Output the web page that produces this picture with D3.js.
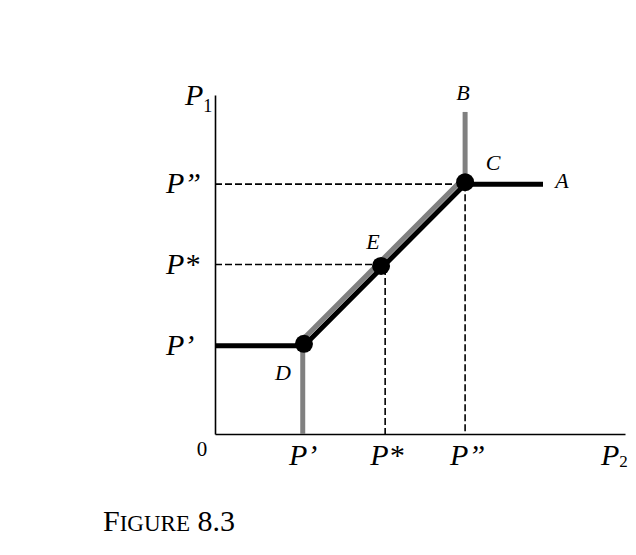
<!DOCTYPE html>
<html>
<head>
<meta charset="utf-8">
<title>Figure 8.3</title>
<script src="https://cdn.jsdelivr.net/npm/d3@7"></script>
<style>
  body { margin: 0; background: #fff; }
  svg text { font-family: "Liberation Serif", "Times New Roman", serif; fill: #000; }
</style>
</head>
<body>
<div id="chart"></div>
<script>
// price levels (axis units 0..100)
var priceLabels = ["P\u2019", "P*", "P\u201D"];
var p2Values = [21.7, 41.5, 61];      // P', P*, P'' on the P2 axis
var p1Values = [26, 50, 73.7];        // P', P*, P'' on the P1 axis

// reaction curves
var blackCurve = [[0, 26], [21.7, 26], [61, 73.7], [80, 73.7]];
var grayLow  = [[21.4, 0], [21.4, 27]];
var grayDiag = [[21.7, 26], [61, 73.7]];
var grayHigh = [[61, 73.7], [61, 95]];

// labelled points
var pointNames = ["D", "E", "C"];
var pointX = [21.7, 40.5, 61];
var pointY = [26, 49, 73.7];

// curve end labels
var endNames = ["A", "B"];
var endX = [80, 61];
var endY = [73.7, 95];

var width = 636, height = 555;

var svg = d3.select("#chart").append("svg")
    .attr("width", width)
    .attr("height", height);

var x = d3.scaleLinear().domain([0, 100]).range([215, 625]);
var y = d3.scaleLinear().domain([0, 100]).range([434, 95]);

var line = d3.line()
    .x(function(d) { return x(d[0]); })
    .y(function(d) { return y(d[1]); });

// dashed guides for P* and P''
var guides = svg.append("g")
    .attr("stroke", "#000")
    .attr("stroke-width", 1.6)
    .attr("stroke-dasharray", "7,3")
    .attr("fill", "none");

[1, 2].forEach(function(i) {
  guides.append("path")
    .attr("d", line([[0, p1Values[i]], [p2Values[i], p1Values[i]]]));
  guides.append("path")
    .attr("d", line([[p2Values[i], i == 1 ? pointY[1] : p1Values[i]], [p2Values[i], 0]]));
});

// axes
var xAxis = d3.axisBottom(x).tickSize(0).tickSizeOuter(0).tickValues([]);
var yAxis = d3.axisLeft(y).tickSize(0).tickSizeOuter(0).tickValues([]);

svg.append("g").attr("transform", "translate(0," + y(0) + ")").call(xAxis)
  .select(".domain").attr("stroke", "#000").attr("stroke-width", 1.6);
svg.append("g").attr("transform", "translate(" + x(0) + ",0)").call(yAxis)
  .select(".domain").attr("stroke", "#000").attr("stroke-width", 1.6);

// curves: gray one sits just above/left of the black one
var gray = svg.append("g")
    .attr("fill", "none")
    .attr("stroke", "#808080")
    .attr("stroke-width", 5);
gray.append("path").attr("d", line(grayLow));
gray.append("path").attr("d", line(grayHigh));
gray.append("path").attr("d", line(grayDiag)).attr("transform", "translate(-3.5,-4)");

svg.append("path")
    .attr("d", line(blackCurve))
    .attr("fill", "none")
    .attr("stroke", "#000")
    .attr("stroke-width", 5);

svg.selectAll(".pt")
  .data(pointNames)
  .enter().append("circle")
    .attr("class", "pt")
    .attr("cx", function(d, i) { return x(pointX[i]); })
    .attr("cy", function(d, i) { return y(pointY[i]) - 2; })
    .attr("r", 9)
    .attr("fill", "#000");

// point labels
var ptOffset = { D: [-21, 34], E: [-8, -19], C: [28, -14], A: [19, 4], B: [-2, -12] };

svg.selectAll(".ptlab")
  .data(pointNames)
  .enter().append("text")
    .attr("x", function(d, i) { return x(pointX[i]) + ptOffset[d][0]; })
    .attr("y", function(d, i) { return y(pointY[i]) + ptOffset[d][1]; })
    .attr("text-anchor", "middle")
    .style("font-style", "italic")
    .style("font-size", "22px")
    .text(function(d) { return d; });

svg.selectAll(".endlab")
  .data(endNames)
  .enter().append("text")
    .attr("x", function(d, i) { return x(endX[i]) + ptOffset[d][0]; })
    .attr("y", function(d, i) { return y(endY[i]) + ptOffset[d][1]; })
    .attr("text-anchor", "middle")
    .style("font-style", "italic")
    .style("font-size", "22px")
    .text(function(d) { return d; });

// tick labels
svg.selectAll(".xlab")
  .data(priceLabels)
  .enter().append("text")
    .attr("x", function(d, i) { return x(p2Values[i]) - 15; })
    .attr("y", 465)
    .style("font-style", "italic")
    .style("font-size", "30px")
    .text(function(d) { return d; });

svg.selectAll(".ylab")
  .data(priceLabels)
  .enter().append("text")
    .attr("x", 166)
    .attr("y", function(d, i) { return y(p1Values[i]) + 9; })
    .style("font-style", "italic")
    .style("font-size", "30px")
    .text(function(d) { return d; });

svg.append("text")
    .attr("x", 202).attr("y", 456)
    .attr("text-anchor", "middle")
    .style("font-size", "21px")
    .text("0");

// axis titles
var t1 = svg.append("text").attr("x", 185).attr("y", 105).style("font-size", "30px");
t1.append("tspan").style("font-style", "italic").text("P");
t1.append("tspan").attr("dy", 7).style("font-size", "18px").text("1");

var t2 = svg.append("text").attr("x", 601).attr("y", 465).style("font-size", "30px");
t2.append("tspan").style("font-style", "italic").text("P");
t2.append("tspan").attr("dy", 2).style("font-size", "17px").text("2");

// caption
var cap = svg.append("text").attr("x", 103).attr("y", 531).style("font-size", "30px");
cap.append("tspan").text("F");
cap.append("tspan").style("font-size", "23px").text("IGURE");
cap.append("tspan").text(" 8.3");
</script>
</body>
</html>
